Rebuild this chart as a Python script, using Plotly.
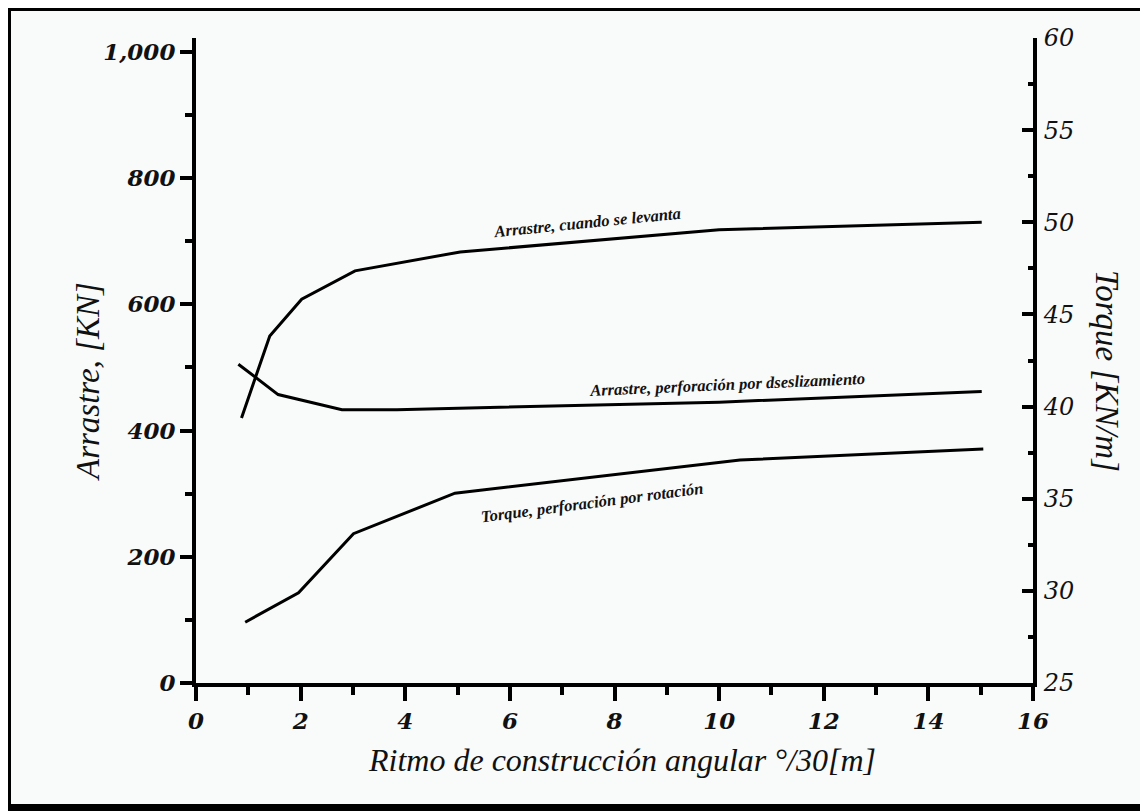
import plotly.graph_objects as go

# ---- data ----
x_levanta = [0.87, 1.41, 2.02, 3.04, 5.05, 10.0, 15.02]
arrastre_levanta = [420, 550, 608, 653, 683, 718, 730]

x_desliz = [0.81, 1.57, 2.79, 3.84, 10.0, 15.02]
arrastre_desliz = [505, 457, 433, 433, 445, 462]

x_torque = [0.94, 1.96, 3.01, 4.95, 10.4, 15.05]
torque_rot = [28.3, 29.9, 33.1, 35.3, 37.1, 37.7]

x_ticks = [0, 2, 4, 6, 8, 10, 12, 14, 16]
y_ticks = [0, 200, 400, 600, 800, 1000]
y2_ticks = [25, 30, 35, 40, 45, 50, 55, 60]

FONT = "Liberation Serif"
TICKFONT = "DejaVu Serif"
BG = "#f9fafa"
LINE = dict(color="#000000", width=3)

fig = go.Figure()
fig.add_trace(go.Scatter(x=x_levanta, y=arrastre_levanta, mode="lines", line=LINE,
                         name="Arrastre, cuando se levanta", yaxis="y"))
fig.add_trace(go.Scatter(x=x_desliz, y=arrastre_desliz, mode="lines", line=LINE,
                         name="Arrastre, perforación por dseslizamiento", yaxis="y"))
fig.add_trace(go.Scatter(x=x_torque, y=torque_rot, mode="lines", line=LINE,
                         name="Torque, perforación por rotación", yaxis="y2"))

tickfont = dict(family=TICKFONT, size=23, color="#111111", style="italic", weight="bold")
tickfont2 = dict(family=TICKFONT, size=24, color="#111111", style="italic", weight="normal")

# the page body has an 8px margin, so the figure is shifted by 8px
OFF = 8
W, H = 1148 - OFF, 811 - OFF
# plot area in page pixels: x 196..1033, y 38..683
L, R, T, B = 196 - OFF, 1033 - OFF, 38 - OFF, 683 - OFF

fig.update_layout(
    width=W, height=H,
    margin=dict(l=L, r=W - R, t=T, b=H - B),
    paper_bgcolor=BG, plot_bgcolor=BG,
    showlegend=False,
    xaxis=dict(range=[0, 16], tickvals=x_ticks, ticktext=[str(v) for v in x_ticks],
               showgrid=False, zeroline=False, showline=True, linecolor="#000", linewidth=4,
               ticks="outside", ticklen=14, tickwidth=4, tickcolor="#000",
               minor=dict(ticks="outside", ticklen=8, tickwidth=4, tickcolor="#000", dtick=1, tick0=0, showgrid=False),
               tickfont=tickfont),
    yaxis=dict(range=[0, 1022], tickvals=y_ticks, ticktext=["0", "200", "400", "600", "800", "1,000"],
               showgrid=False, zeroline=False, showline=True, linecolor="#000", linewidth=4,
               ticks="outside", ticklen=12, tickwidth=4, tickcolor="#000",
               minor=dict(ticks="outside", ticklen=7, tickwidth=4, tickcolor="#000", dtick=100, tick0=0, showgrid=False),
               tickfont=tickfont),
    yaxis2=dict(range=[25, 60], tickvals=y2_ticks, ticktext=[str(v) for v in y2_ticks],
                overlaying="y", side="right", anchor="x",
                showgrid=False, zeroline=False, showline=True, linecolor="#000", linewidth=4,
                ticks="inside", ticklen=11, tickwidth=4, tickcolor="#000",
                minor=dict(ticks="inside", ticklen=5, tickwidth=4, tickcolor="#000", dtick=2.5, tick0=25, showgrid=False),
                tickfont=tickfont2, ticklabelstandoff=2),
)

def px(xp):
    # page x pixel -> paper coordinate
    return (xp - OFF - L) / (R - L)

def py(yp):
    # page y pixel -> paper coordinate
    return (B - (yp - OFF)) / (B - T)

title_font = dict(family=FONT, size=32, color="#111111", style="italic")
side_font = dict(family=FONT, size=33, color="#111111", style="italic")
lab_font = dict(family=FONT, size=16.5, color="#111111", style="italic", weight="bold")

annots = [
    dict(text="Ritmo de construcción angular °/30[m]", x=px(622), y=py(760), font=title_font, textangle=0),
    dict(text="Arrastre, [KN]", x=px(88), y=py(382), font=side_font, textangle=-90),
    dict(text="Torque [KN/m]", x=px(1107), y=py(371), font=side_font, textangle=90),
    dict(text="Arrastre, cuando se levanta", x=px(587), y=py(222), font=lab_font, textangle=-5.7),
    dict(text="Arrastre, perforación por dseslizamiento", x=px(727), y=py(384), font=lab_font, textangle=-2.5),
    dict(text="Torque, perforación por rotación", x=px(592), y=py(502), font=lab_font, textangle=-7.4),
]
for a in annots:
    fig.add_annotation(xref="paper", yref="paper", showarrow=False,
                       xanchor="center", yanchor="middle", **a)

# outer black frame (page pixels 3..1148, 3..808)
fig.add_shape(type="rect", xref="paper", yref="paper",
              x0=px(7), x1=px(1148), y0=py(808), y1=py(7),
              line=dict(color="#000000", width=8), fillcolor="rgba(0,0,0,0)", layer="above")

fig.write_html("out.html")
